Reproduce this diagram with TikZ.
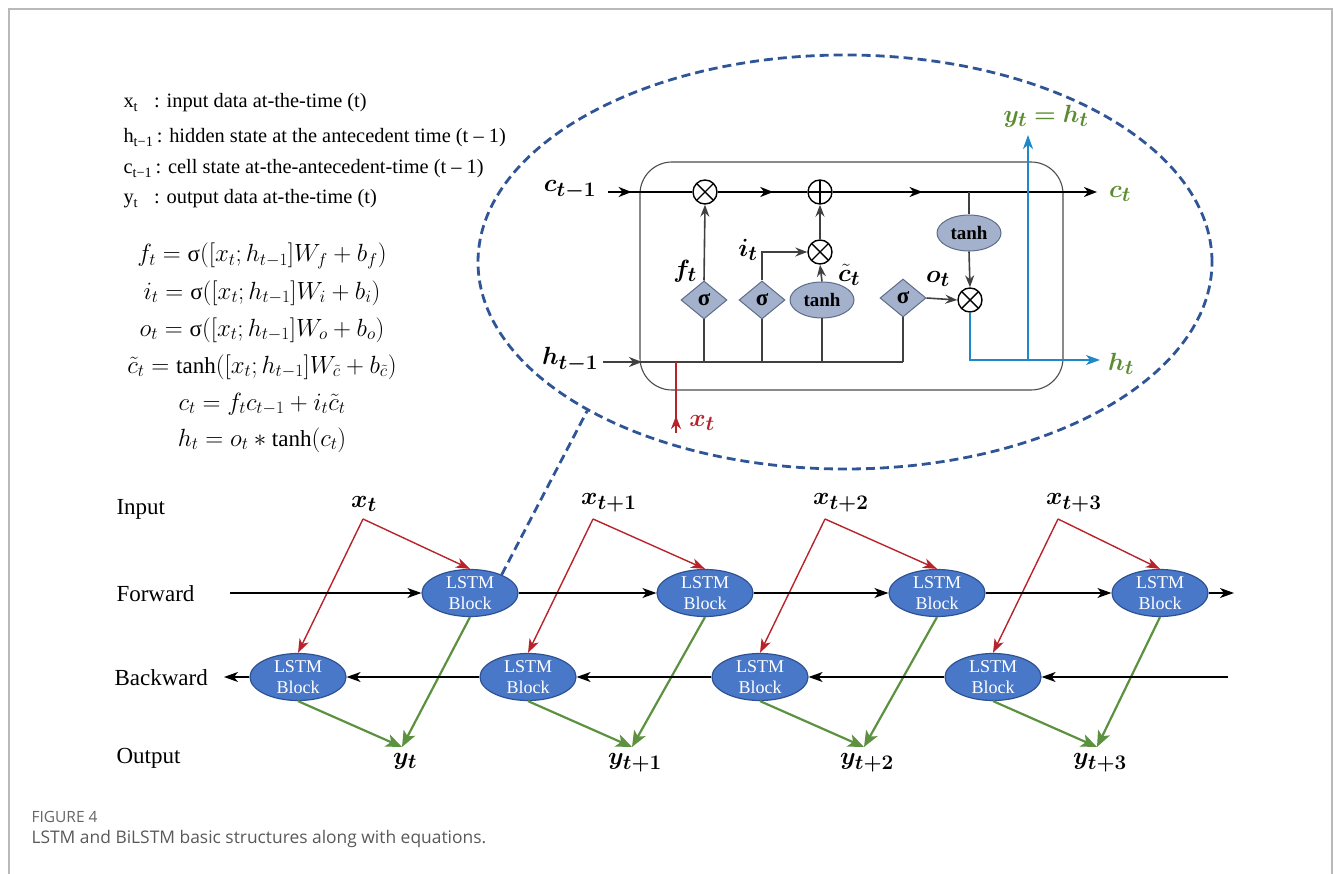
\documentclass[tikz,border=0pt]{standalone}
\usepackage{amsmath,bm}
\usepackage{fontspec}
\setmainfont{Liberation Serif}
\newfontfamily\capfont{Open Sans}
\usetikzlibrary{shapes.geometric,arrows.meta,positioning,decorations.markings,calc}

\definecolor{gatefill}{HTML}{A3B1CC}
\definecolor{gatedraw}{HTML}{5D6C88}
\definecolor{blockfill}{HTML}{4A78C8}
\definecolor{blockdraw}{HTML}{2D5193}
\definecolor{inred}{HTML}{B8232B}
\definecolor{outgreen}{HTML}{5C9140}
\definecolor{hblue}{HTML}{1E88C8}
\definecolor{zoomblue}{HTML}{2F5597}
\definecolor{lblgreen}{HTML}{5B8C32}
\definecolor{wire}{HTML}{404040}

\newcommand{\usig}{\text{σ}}

\tikzset{
  lstmblock/.style={ellipse, fill=blockfill, draw=blockdraw, line width=1.2pt,
    minimum width=96pt, minimum height=47pt, inner sep=0pt, text=white,
    align=center, font=\fontsize{18}{21}\selectfont},
  gate/.style={diamond, fill=gatefill, draw=gatedraw, line width=1pt,
    minimum width=46pt, minimum height=38pt, inner sep=0pt,
    font=\bfseries\fontsize{23}{23}\selectfont},
  act/.style={ellipse, fill=gatefill, draw=gatedraw, line width=1pt,
    minimum width=64pt, minimum height=36pt, inner sep=0pt,
    font=\bfseries\fontsize{19}{19}\selectfont},
  op/.style={circle, draw=black, line width=1.4pt, minimum size=24pt, inner sep=0pt},
  mul/.style={op, path picture={\draw[line width=1.4pt]
    (path picture bounding box.north west) -- (path picture bounding box.south east)
    (path picture bounding box.north east) -- (path picture bounding box.south west);}},
  add/.style={op, path picture={\draw[line width=1.4pt]
    (path picture bounding box.north) -- (path picture bounding box.south)
    (path picture bounding box.west) -- (path picture bounding box.east);}},
  tipat/.style={postaction={decorate}, decoration={markings,
    mark=at position #1 with {\arrow{Stealth[length=13pt,width=10pt,inset=4pt]}}}},
  cwire/.style={draw=black, line width=1.9pt},
  gwire/.style={draw=wire, line width=1.6pt},
  gtip/.style={arrows={-Stealth[length=12pt,width=9pt,inset=4pt]}},
  chain/.style={draw=black, line width=1.4pt, arrows={-Stealth[length=14pt,width=10pt,inset=4pt]}},
  redarr/.style={draw=inred, line width=1.4pt, arrows={-Stealth[length=14pt,width=10pt,inset=4pt]}},
  greenarr/.style={draw=outgreen, line width=2.2pt, arrows={-Stealth[length=16pt,width=13pt,inset=4pt]}},
  lbl/.style={font=\fontsize{28}{28}\selectfont},
  rowlbl/.style={anchor=west, font=\fontsize{23}{23}\selectfont},
  legend/.style={anchor=base west, font=\fontsize{20.4}{20.4}\selectfont},
  eqn/.style={font=\fontsize{23}{23}\selectfont},
  zoomline/.style={draw=zoomblue, line width=2.8pt, dash pattern=on 9pt off 5pt},
}

\begin{document}
\begin{tikzpicture}[x=1pt,y=-1pt]
\useasboundingbox (0,0) rectangle (1333,874);

% page frame
\draw[gray!55, line width=1.5pt] (9,874) -- (9,9) -- (1332,9) -- (1332,874);

% notation
\node[legend] (lx) at (120,108) {x\textsubscript{t}\hspace{16pt}: input data at-the-time (t)};
\node[legend] (lh) at (120,143) {h\textsubscript{t−1}\,: hidden state at the antecedent time (t – 1)};
\node[legend] (lc) at (120,174) {c\textsubscript{t−1}\,: cell state at-the-antecedent-time (t – 1)};
\node[legend] (ly) at (120,204) {y\textsubscript{t}\hspace{16pt}: output data at-the-time (t)};

% equations
\node[eqn] (eqf) at (262,256) {$f_t=\usig([x_t;h_{t-1}]W_f+b_f)$};
\node[eqn] (eqi) at (262,293) {$i_t=\usig([x_t;h_{t-1}]W_i+b_i)$};
\node[eqn] (eqo) at (262,330) {$o_t=\usig([x_t;h_{t-1}]W_o+b_o)$};
\node[eqn] (eqc) at (262,367) {$\tilde{c}_t=\tanh([x_t;h_{t-1}]W_{\tilde{c}}+b_{\tilde{c}})$};
\node[eqn] (eqcc) at (262,404) {$c_t=f_tc_{t-1}+i_t\tilde{c}_t$};
\node[eqn] (eqh) at (262,440) {$h_t=o_t*\tanh(c_t)$};

% zoomed cell
\node[zoomline, ellipse, minimum width=734pt, minimum height=414pt] (zoom) at (845,262) {};
\draw[gray!60!black, line width=1.1pt, rounded corners=32pt] (640,162) rectangle (1063,390);

\coordinate (cin) at (608,192);
\coordinate (cout) at (1097,192);
\coordinate (hin) at (603,362);
\coordinate (hend) at (903,362);
\coordinate (hout) at (1100,360);
\coordinate (yup) at (1028,135);
\coordinate (xin) at (676,433);

\node[mul] (fmul) at (705,192) {};
\node[add] (cadd) at (820,192) {};
\node[mul] (imul) at (820,252) {};
\node[mul] (omul) at (970,300) {};
\node[gate] (fsig) at (704,300) {σ};
\node[gate] (isig) at (762,300) {σ};
\node[act] (ctanh) at (822,300) {tanh};
\node[gate] (osig) at (903,298) {σ};
\node[act] (htanh) at (969,233) {tanh};

\node[lbl] (lcin) at (570,190) {$\bm{c_{t-1}}$};
\node[lbl] (lhin) at (570,360) {$\bm{h_{t-1}}$};
\node[lbl] (lf) at (685,271) {$\bm{f_t}$};
\node[lbl] (li) at (748,250) {$\bm{i_t}$};
\node[lbl] (lct) at (849,275) {$\bm{\tilde{c}_t}$};
\node[lbl] (lo) at (938,279) {$\bm{o_t}$};
\node[lbl, text=lblgreen] (lcout) at (1120,194) {$\bm{c_t}$};
\node[lbl, text=lblgreen] (lhout) at (1121,364) {$\bm{h_t}$};
\node[lbl, text=lblgreen] (lyh) at (1046,116) {$\bm{y_t=h_t}$};
\node[lbl, text=inred] (lxin) at (702,423) {$\bm{x_t}$};

% cell state
\draw[cwire, tipat=0.28] (cin) -- (fmul);
\draw[cwire, tipat=0.62] (fmul) -- (cadd);
\draw[cwire, tipat=0.34, arrows={-Stealth[length=13pt,width=10pt,inset=4pt]}] (cadd) -- (cout);

% hidden state and gates
\draw[gwire, tipat=0.13] (hin) -- (hend);
\draw[gwire] (fsig.south |- hin) -- (fsig.south);
\draw[gwire] (isig.south |- hin) -- (isig.south);
\draw[gwire] (ctanh.south |- hin) -- (ctanh.south);
\draw[gwire] (hend) -- (osig.south);
\draw[gwire, gtip] (fsig.north) -- (fmul.south);
\draw[gwire, gtip] (isig.north) |- (imul.west);
\draw[gwire, gtip] (ctanh.north) -- (imul.south);
\draw[gwire, gtip] (imul.north) -- (cadd.south);
\draw[gwire, gtip] (osig.east) -- (omul.west);
\draw[gwire] (htanh.north |- cin) -- (htanh.north);
\draw[gwire, gtip] (htanh.south) -- (omul.north);

% output
\draw[hblue, line width=1.9pt, -{Stealth[length=14pt,width=10pt,inset=4pt]}] (omul.south) |- (hout);
\draw[hblue, line width=1.9pt, -{Stealth[length=14pt,width=10pt,inset=4pt]}] (yup |- hout) -- (yup);

% input
\draw[inred, line width=1.7pt, tipat=0.24] (xin) -- (xin |- hin);

% BiLSTM
\node[rowlbl] (rowin) at (113,509) {Input};
\node[rowlbl] (rowfw) at (113,594) {Forward};
\node[rowlbl] (rowbw) at (111,678) {Backward};
\node[rowlbl] (rowout) at (113,758) {Output};

\foreach \k/\fx/\bx/\lab in {1/470/298/t, 2/705/528/t+1, 3/937/760/t+2, 4/1160/993/t+3} {
  \node[lstmblock] (fwd\k) at (\fx,593) {LSTM\\Block};
  \node[lstmblock] (bwd\k) at (\bx,677) {LSTM\\Block};
  \coordinate (in\k) at (\bx+65,519);
  \coordinate (out\k) at (\bx+104,747);
  \node[lbl, anchor=south west, inner sep=0pt] (xl\k) at ($(in\k)+(-12,-7)$) {$\bm{x_{\lab}}$};
  \node[lbl, anchor=north, inner sep=0pt] (yl\k) at ($(out\k)+(3,6)$) {$\bm{y_{\lab}}$};
  \draw[redarr] (in\k) -- (fwd\k.north);
  \draw[redarr] (in\k) -- (bwd\k.north);
  \draw[greenarr] (fwd\k.south) -- (out\k);
  \draw[greenarr] (bwd\k.south) -- (out\k);
}

\coordinate (fstart) at (230,593);
\coordinate (fend) at (1234,593);
\coordinate (bstart) at (1228,677);
\coordinate (bend) at (224,677);
\draw[chain] (fstart) -- (fwd1);
\draw[chain] (fwd1) -- (fwd2);
\draw[chain] (fwd2) -- (fwd3);
\draw[chain] (fwd3) -- (fwd4);
\draw[chain] (fwd4) -- (fend);
\draw[chain] (bstart) -- (bwd4);
\draw[chain] (bwd4) -- (bwd3);
\draw[chain] (bwd3) -- (bwd2);
\draw[chain] (bwd2) -- (bwd1);
\draw[chain] (bwd1) -- (bend);

% link to the zoomed cell
\draw[zoomline] (fwd1.30) -- (zoom.210);

% caption
\node[anchor=west, font=\capfont\fontsize{15.5}{15.5}\selectfont, text=black!60] (fignum) at (28,817) {FIGURE 4};
\node[anchor=west, font=\capfont\fontsize{17.4}{17.4}\selectfont, text=black!65] (figcap) at (28,839) {LSTM and BiLSTM basic structures along with equations.};
\end{tikzpicture}
\end{document}
